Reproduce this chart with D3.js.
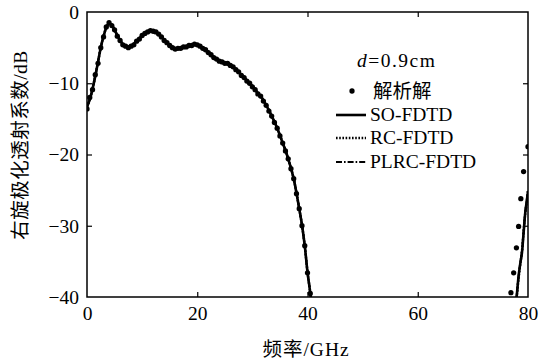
<!DOCTYPE html>
<html><head><meta charset="utf-8">
<script src="https://cdn.jsdelivr.net/npm/d3@7"></script>
<style>
body{margin:0;background:#fff;}
svg text{font-family:"Liberation Serif","Noto Sans CJK SC",serif;fill:#000;}
</style></head>
<body><svg id="c" width="551" height="362"></svg>
<script>
// ---- data ----
const xTicks = [0, 20, 40, 60, 80];
const yTicks = [0, -10, -20, -30, -40];
const fdtdFreq = [0,0.5,1,1.5,2,2.5,3,3.5,4,4.5,5,5.5,6,6.5,7,7.5,8,8.5,9,9.5,10,10.5,11,11.5,12,12.5,13,13.5,14,14.5,15,15.5,16,16.5,17,17.5,18,18.5,19,19.5,20,20.5,21,21.5,22,22.5,23,23.5,24,24.5,25,25.5,26,26.5,27,27.5,28,28.5,29,29.5,30,30.5,31,31.5,32,32.5,33,33.5,34,34.5,35,35.5,36,36.5,37,37.5,38,38.5,39,39.5,40,40.5,40.8];
const soDb = [-13.3,-12.3,-10.8,-9.0,-7.0,-5.0,-3.4,-2.2,-1.6,-1.8,-2.5,-3.3,-4.0,-4.5,-4.8,-4.9,-4.8,-4.5,-4.1,-3.7,-3.3,-3.0,-2.8,-2.7,-2.7,-2.8,-3.1,-3.5,-3.9,-4.3,-4.7,-5.0,-5.1,-5.1,-5.1,-5.0,-4.9,-4.8,-4.7,-4.6,-4.6,-4.8,-5.0,-5.3,-5.6,-6.0,-6.3,-6.6,-6.8,-7.0,-7.1,-7.2,-7.4,-7.7,-8.0,-8.4,-8.8,-9.2,-9.6,-10.0,-10.4,-10.9,-11.4,-11.8,-12.4,-13.1,-13.8,-14.6,-15.4,-16.3,-17.3,-18.4,-19.4,-20.6,-21.9,-23.4,-25.4,-27.6,-29.9,-32.8,-36.5,-39.4,-41.5];
// RC-FDTD and PLRC-FDTD coincide with SO-FDTD at this scale
const rcDb = soDb;
const plrcDb = soDb;
const fdtdFreq2 = [77.8,78.0,78.3,78.6,78.9,79.2,79.5,79.8,80];
const soDb2 = [-41,-39.5,-37,-35.3,-33.8,-31,-28.2,-26.4,-25.2];
const rcDb2 = [-41,-39.6,-37.3,-35.4,-33.6,-30.8,-28.3,-26.5,-25.0];
const plrcDb2 = [-41,-39.4,-37.1,-35.2,-33.7,-30.9,-28.1,-26.3,-25.1];
const analyticFreq = [0,0.5,1,1.5,2,2.5,3,3.5,4,4.5,5,5.5,6,6.5,7,7.5,8,8.5,9,9.5,10,10.5,11,11.5,12,12.5,13,13.5,14,14.5,15,15.5,16,16.5,17,17.5,18,18.5,19,19.5,20,20.5,21,21.5,22,22.5,23,23.5,24,24.5,25,25.5,26,26.5,27,27.5,28,28.5,29,29.5,30,30.5,31,31.5,32,32.5,33,33.5,34,34.5,35,35.5,36,36.5,37,37.5,38,38.5,39,39.5,40,40.5,76.9,77.4,77.9,78.3,78.7,79.2,80];
const analyticDb = [-13.6,-12.0,-10.9,-8.8,-7.2,-5.0,-3.5,-2.1,-1.5,-1.9,-2.5,-3.4,-4.0,-4.6,-4.8,-5.0,-4.8,-4.6,-4.1,-3.8,-3.3,-3.0,-2.8,-2.6,-2.7,-2.8,-3.1,-3.5,-4.0,-4.3,-4.7,-5.0,-5.2,-5.1,-5.1,-4.9,-4.9,-4.7,-4.7,-4.5,-4.6,-4.8,-5.1,-5.3,-5.7,-6.0,-6.4,-6.6,-6.9,-7.0,-7.2,-7.2,-7.5,-7.7,-8.1,-8.4,-8.9,-9.2,-9.7,-10.0,-10.5,-10.9,-11.5,-11.8,-12.5,-13.1,-13.9,-14.6,-15.5,-16.3,-17.4,-18.4,-19.5,-20.6,-22.0,-23.4,-25.5,-27.6,-30.0,-32.8,-36.6,-39.5,-39.4,-36.6,-33.1,-30.1,-26.2,-22.4,-18.9];
const legendTitle = ["d", "=0.9cm"];
const seriesNames = ["解析解", "SO-FDTD", "RC-FDTD", "PLRC-FDTD"];

// ---- layout ----
const svg = d3.select("#c");
const L = 87, R = 528, T = 12, B = 297;
const x = d3.scaleLinear().domain([0, 80]).range([L, R]);
const y = d3.scaleLinear().domain([-40, 0]).range([B, T]);

svg.append("clipPath").attr("id","clip").append("rect")
  .attr("x", L).attr("y", T).attr("width", R - L).attr("height", B - T);

const fs = "19.5px";
const gB = svg.append("g").attr("transform", `translate(0,${B})`)
  .call(d3.axisBottom(x).tickValues(xTicks).tickSizeInner(-5).tickSizeOuter(0).tickPadding(9));
const gT = svg.append("g").attr("transform", `translate(0,${T})`)
  .call(d3.axisTop(x).tickValues(xTicks).tickSizeInner(-5).tickSizeOuter(0).tickFormat(""));
const gL = svg.append("g").attr("transform", `translate(${L},0)`)
  .call(d3.axisLeft(y).tickValues(yTicks).tickSizeInner(-5).tickSizeOuter(0).tickPadding(8)
    .tickFormat(d => d < 0 ? "\u2212" + Math.abs(d) : d));
const gR = svg.append("g").attr("transform", `translate(${R},0)`)
  .call(d3.axisRight(y).tickValues(yTicks).tickSizeInner(-5).tickSizeOuter(0).tickFormat(""));
[gB, gT, gL, gR].forEach(g => {
  g.select(".domain").remove();
  g.selectAll(".tick line").attr("stroke", "#000").attr("stroke-width", 1.2);
  g.selectAll("text").style("font-size", fs).attr("fill", "#000");
});
[gB, gT].forEach(g => g.selectAll(".tick").filter(d => d === 0 || d === 80).select("line").remove());
[gL, gR].forEach(g => g.selectAll(".tick").filter(d => d === 0 || d === -40).select("line").remove());

svg.append("rect").attr("x", L).attr("y", T).attr("width", R - L).attr("height", B - T)
  .attr("fill", "none").attr("stroke", "#000").attr("stroke-width", 1.5);

// ---- curves ----
const plot = svg.append("g").attr("clip-path", "url(#clip)");
const line = d3.line().x(d => x(d[0])).y(d => y(d[1])).curve(d3.curveCatmullRom);
const zip = (a, b) => a.map((v, i) => [v, b[i]]);
const styles = [
  {db: soDb, db2: soDb2, dash: null, w: 2.6},
  {db: rcDb, db2: rcDb2, dash: "1.6,1.6", w: 2.4},
  {db: plrcDb, db2: plrcDb2, dash: "6,2,1.6,2", w: 2.0}
];
styles.forEach(s => {
  [zip(fdtdFreq, s.db), zip(fdtdFreq2, s.db2)].forEach(pts => {
    plot.append("path").attr("d", line(pts)).attr("fill", "none")
      .attr("stroke", "#000").attr("stroke-width", s.w)
      .attr("stroke-dasharray", s.dash);
  });
});
const dot = d3.symbol().type(d3.symbolCircle).size(22);
plot.selectAll(".m").data(zip(analyticFreq, analyticDb)).enter().append("path")
  .attr("d", dot).attr("transform", d => `translate(${x(d[0])},${y(d[1])})`)
  .attr("fill", "#000");

// ---- legend ----
const lg = svg.append("g");
const t = lg.append("text").attr("x", 357).attr("y", 67).style("font-size", fs).style("letter-spacing", "1.5px");
t.append("tspan").attr("font-style", "italic").text(legendTitle[0]);
t.append("tspan").text(legendTitle[1]);
lg.append("path").attr("d", dot).attr("transform", "translate(352,91)").attr("fill", "#000");
lg.append("text").attr("x", 373).attr("y", 98).style("font-size", fs).text(seriesNames[0]);
const ly = [115, 138, 162];
styles.forEach((s, i) => {
  lg.append("line").attr("x1", 336).attr("x2", 366).attr("y1", ly[i]).attr("y2", ly[i])
    .attr("stroke", "#000").attr("stroke-width", s.w).attr("stroke-dasharray", s.dash);
  lg.append("text").attr("x", 370).attr("y", ly[i] + 6).style("font-size", fs).text(seriesNames[i + 1]);
});

// ---- axis titles ----
svg.append("text").attr("x", 306).attr("y", 356).attr("text-anchor", "middle")
  .style("font-size", fs).style("letter-spacing", "1px").text("频率/GHz");
svg.append("text").attr("transform", "translate(27,145) rotate(-90)").attr("text-anchor", "middle")
  .style("font-size", fs).style("letter-spacing", "0.5px").text("右旋极化透射系数/dB");
</script></body></html>
